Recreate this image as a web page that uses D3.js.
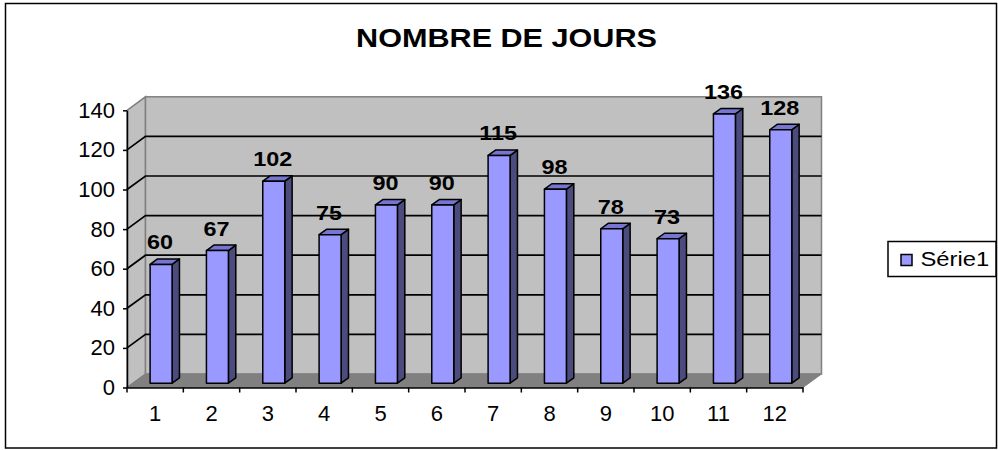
<!DOCTYPE html>
<html>
<head>
<meta charset="utf-8">
<script src="https://cdn.jsdelivr.net/npm/d3@7"></script>
<style>
  body { margin: 0; background: #fff; }
  svg { display: block; font-family: "Liberation Sans", Arial, sans-serif; }
</style>
</head>
<body>
<script>
// data
var chartTitle = "NOMBRE DE JOURS";
var seriesName = "Série1";
var categories = ["1", "2", "3", "4", "5", "6", "7", "8", "9", "10", "11", "12"];
var values = [60, 67, 102, 75, 90, 90, 115, 98, 78, 73, 136, 128];
var yTicks = [0, 20, 40, 60, 80, 100, 120, 140];

var width = 998, height = 450;

// depth of the 3d box (back wall is shifted by DX, DY)
var DX = 18.5, DY = 13.5;
var z1 = 0.32, z2 = 0.72;

function proj(x, y, z) {
  return [x + z * DX, y - z * DY];
}

var svg = d3.select("body").append("svg")
  .attr("width", width)
  .attr("height", height);

// outer border
svg.append("rect")
  .attr("x", 5.5).attr("y", 3.5)
  .attr("width", 991).attr("height", 444.5)
  .attr("fill", "#fff")
  .attr("stroke", "#000")
  .attr("stroke-width", 1.5);

var x = d3.scaleBand().domain(categories).range([127, 803]);
var xBar = d3.scaleBand().domain(categories).range([127, 803])
  .paddingInner(0.61).paddingOuter(0.305);
var y = d3.scaleLinear().domain([0, 140]).range([387.5, 110.3]);

var x0 = x.range()[0], x1 = x.range()[1];
var yMin = y(0), yMax = y(140);

function pts(arr) {
  return arr.map(function(p) { return p.join(","); }).join(" ");
}

// side wall
svg.append("polygon")
  .attr("points", pts([proj(x0, yMin, 0), proj(x0, yMin, 1), proj(x0, yMax, 1), proj(x0, yMax, 0)]))
  .attr("fill", "#c0c0c0")
  .attr("stroke", "#808080")
  .attr("stroke-width", 1.5);

// back wall
var bw0 = proj(x0, yMax, 1), bw1 = proj(x1, yMin, 1);
svg.append("rect")
  .attr("x", bw0[0]).attr("y", bw0[1])
  .attr("width", bw1[0] - bw0[0]).attr("height", bw1[1] - bw0[1])
  .attr("fill", "#c0c0c0")
  .attr("stroke", "#808080")
  .attr("stroke-width", 1.5);

// floor
svg.append("polygon")
  .attr("points", pts([proj(x0, yMin, 0), proj(x1, yMin, 0), proj(x1, yMin, 1), proj(x0, yMin, 1)]))
  .attr("fill", "#808080")
  .attr("stroke", "#808080");

// gridlines on both walls
var inner = yTicks.filter(function(t) { return t > 0 && t < 140; });
svg.append("g").selectAll("path")
  .data(inner)
  .join("path")
  .attr("d", function(t) {
    var a = proj(x0, y(t), 0), b = proj(x0, y(t), 1), c = proj(x1, y(t), 1);
    return "M" + a + "L" + b + "L" + c;
  })
  .attr("fill", "none")
  .attr("stroke", "#000")
  .attr("stroke-width", 1.7);

// bars
var bars = svg.append("g").selectAll("g")
  .data(values)
  .join("g");

bars.each(function(v, i) {
  var g = d3.select(this);
  var bx0 = xBar(categories[i]), bx1 = bx0 + xBar.bandwidth();
  var top = y(v), bot = y(0);
  g.append("polygon")
    .attr("points", pts([proj(bx1, top, z1), proj(bx1, top, z2), proj(bx1, bot, z2), proj(bx1, bot, z1)]))
    .attr("fill", "#4b4b7e");
  g.append("polygon")
    .attr("points", pts([proj(bx0, top, z1), proj(bx0, top, z2), proj(bx1, top, z2), proj(bx1, top, z1)]))
    .attr("fill", "#7676d0");
  g.append("polygon")
    .attr("points", pts([proj(bx0, top, z1), proj(bx1, top, z1), proj(bx1, bot, z1), proj(bx0, bot, z1)]))
    .attr("fill", "#9999ff");
  g.selectAll("polygon")
    .attr("stroke", "#000")
    .attr("stroke-width", 1.5)
    .attr("stroke-linejoin", "round");
});

// value labels
svg.append("g").selectAll("g")
  .data(values)
  .join("g")
  .attr("transform", function(v, i) {
    var p = proj(xBar(categories[i]) + xBar.bandwidth() / 2, y(v), z1);
    return "translate(" + (p[0] - 1) + "," + (p[1] - 15) + ") scale(1.2,1)";
  })
  .append("text")
  .attr("text-anchor", "middle")
  .attr("font-size", "19.5px")
  .attr("font-weight", "bold")
  .text(function(v) { return v; });

// y axis
var yAxis = svg.append("g")
  .attr("transform", "translate(" + x0 + ",0)")
  .call(d3.axisLeft(y).tickValues(yTicks).tickSizeInner(4).tickSizeOuter(0).tickPadding(8));
yAxis.select(".domain").attr("stroke", "#000").attr("stroke-width", 1.5);
yAxis.selectAll("line").attr("stroke", "#000").attr("stroke-width", 1.5);
yAxis.selectAll("text")
  .attr("font-family", "Liberation Sans, Arial, sans-serif")
  .attr("font-size", "22px")
  .attr("fill", "#000");

// x axis
var xAxis = svg.append("g")
  .attr("transform", "translate(0," + yMin + ")")
  .call(d3.axisBottom(x).tickSize(0).tickSizeOuter(0).tickPadding(17.5));
xAxis.select(".domain").attr("stroke", "#000").attr("stroke-width", 1.5);
xAxis.selectAll("text")
  .attr("font-family", "Liberation Sans, Arial, sans-serif")
  .attr("font-size", "22px")
  .attr("fill", "#000");
xAxis.append("g").selectAll("line")
  .data(d3.range(categories.length + 1))
  .join("line")
  .attr("x1", function(i) { return x0 + i * x.step(); })
  .attr("x2", function(i) { return x0 + i * x.step(); })
  .attr("y1", 0).attr("y2", 5)
  .attr("stroke", "#000")
  .attr("stroke-width", 1.5);

// title
svg.append("g")
  .attr("transform", "translate(506.5,46.5) scale(1.2,1)")
  .append("text")
  .attr("text-anchor", "middle")
  .attr("font-size", "25.5px")
  .attr("font-weight", "bold")
  .text(chartTitle);

// legend
var legend = svg.append("g").attr("transform", "translate(888,241.5)");
legend.append("rect")
  .attr("width", 108).attr("height", 35)
  .attr("fill", "#fff")
  .attr("stroke", "#000")
  .attr("stroke-width", 1.5);
legend.append("rect")
  .attr("x", 13).attr("y", 13)
  .attr("width", 11).attr("height", 11)
  .attr("fill", "#9999ff")
  .attr("stroke", "#000")
  .attr("stroke-width", 1.5);
legend.append("g")
  .attr("transform", "translate(32.5,24.5) scale(1.22,1)")
  .append("text")
  .attr("font-size", "19.5px")
  .text(seriesName);
</script>
</body>
</html>
